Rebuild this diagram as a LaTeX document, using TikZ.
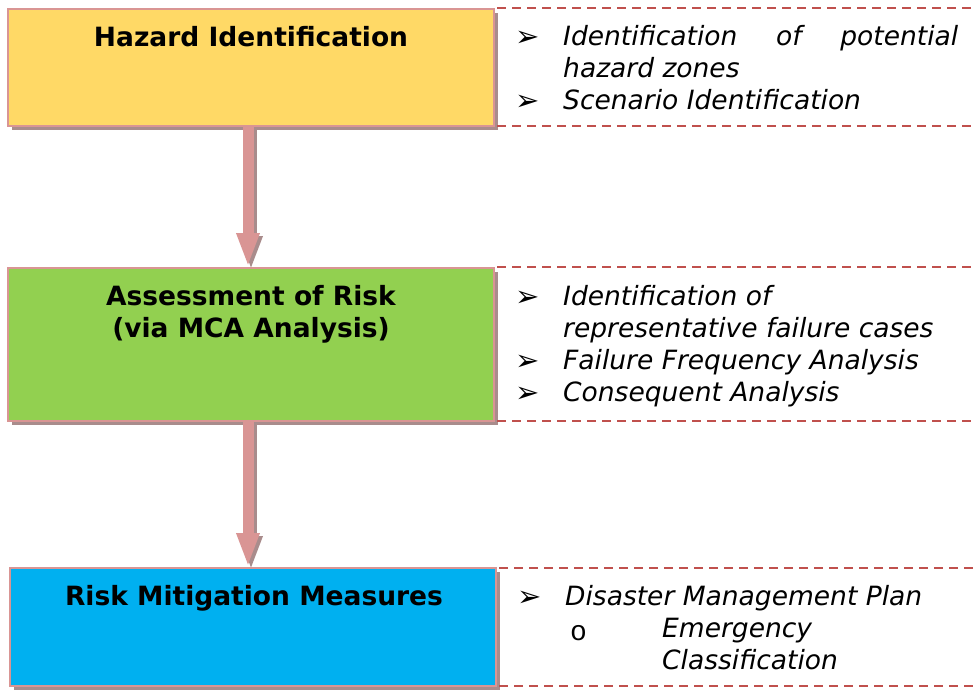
\documentclass[tikz,border=0pt]{standalone}
\usepackage{fontspec}
\setmainfont{DejaVu Sans}
\newfontfamily\monofnt{Liberation Mono}
\usetikzlibrary{arrows.meta,shadows}
\definecolor{hyellow}{HTML}{FFD966}
\definecolor{hgreen}{HTML}{92D050}
\definecolor{hblue}{HTML}{00B0F0}
\definecolor{hborder}{HTML}{D99594}
\definecolor{hshadow}{HTML}{A98C8C}
\definecolor{hdash}{HTML}{C0504D}
\begin{document}
\begin{tikzpicture}[x=1pt,y=-1pt,
  stagebox/.style={draw=hborder, line width=2pt, minimum width=486pt, inner sep=0pt,
    drop shadow={shadow xshift=4pt, shadow yshift=-4pt, fill=hshadow, opacity=1}},
  titletext/.style={anchor=base, inner sep=0pt, font=\fontsize{26.5}{30}\selectfont\bfseries},
  bul/.style={anchor=base west, inner sep=0pt, font=\fontsize{29}{32}\selectfont},
  itemtext/.style={anchor=base west, inner sep=0pt, font=\fontsize{26.5}{30}\selectfont\itshape},
  flow/.style={line width=11pt, hborder, -{Triangle[width=21pt,length=34pt]}},
  flowshadow/.style={line width=11pt, hshadow, -{Triangle[width=21pt,length=34pt]}},
  sep/.style={hdash, line width=2pt, dash pattern=on 9pt off 6pt}
]
\useasboundingbox (0,0) rectangle (976,691);

% boxes
\node[stagebox, fill=hyellow, minimum height=117pt] (b1) at (251,67.5) {};
\node[stagebox, fill=hgreen, minimum height=153pt] (b2) at (251,344.5) {};
\node[stagebox, fill=hblue, minimum height=118pt] (b3) at (253,627) {};

% arrow anchors
\coordinate (a1s) at ([xshift=-3pt]b1.south);
\coordinate (a2s) at ([xshift=-3pt]b2.south);

% arrows
\begin{scope}[transform canvas={xshift=3pt,yshift=-3pt}]
\draw[flowshadow] (a1s) -- (a1s |- b2.north);
\draw[flowshadow] (a2s) -- (a2s |- b3.north);
\end{scope}
\draw[flow] (a1s) -- (a1s |- b2.north);
\draw[flow] (a2s) -- (a2s |- b3.north);

% titles
\node[titletext] (t1) at (251,46) {Hazard Identification};
\node[titletext] (t2a) at (251,305) {Assessment of Risk};
\node[titletext] (t2b) at (251,337) {(via MCA Analysis)};
\node[titletext] (t3) at (254,605) {Risk Mitigation Measures};

% separators
\coordinate (s1a) at (497,8);   \coordinate (e1a) at (976,8);
\coordinate (s1b) at (497,126); \coordinate (e1b) at (976,126);
\coordinate (s2a) at (497,267); \coordinate (e2a) at (976,267);
\coordinate (s2b) at (497,421); \coordinate (e2b) at (976,421);
\coordinate (s3a) at (499,568); \coordinate (e3a) at (976,568);
\coordinate (s3b) at (499,686); \coordinate (e3b) at (976,686);
\draw[sep] (s1a) -- (e1a);
\draw[sep] (s1b) -- (e1b);
\draw[sep] (s2a) -- (e2a);
\draw[sep] (s2b) -- (e2b);
\draw[sep] (s3a) -- (e3a);
\draw[sep] (s3b) -- (e3b);

% list 1
\node[bul] (p1) at (515,46) {➢};
\node[itemtext] (i1) at (563,45) {\hbox to 395pt{Identification\hfill of\hfill potential}};
\node[itemtext] (i1b) at (563,77) {hazard zones};
\node[bul] (p2) at (515,110) {➢};
\node[itemtext] (i2) at (563,109) {Scenario Identification};

% list 2
\node[bul] (p3) at (515,306) {➢};
\node[itemtext] (i3) at (563,305) {Identification of};
\node[itemtext] (i3b) at (563,337) {representative failure cases};
\node[bul] (p4) at (515,370) {➢};
\node[itemtext] (i4) at (563,369) {Failure Frequency Analysis};
\node[bul] (p5) at (515,402) {➢};
\node[itemtext] (i5) at (563,401) {Consequent Analysis};

% list 3
\node[bul] (p6) at (517,606) {➢};
\node[itemtext] (i6) at (565,605) {Disaster Management Plan};
\node[bul, font=\fontsize{28}{30}\selectfont\monofnt] (p7) at (570,640) {o};
\node[itemtext] (i7) at (662,637) {Emergency};
\node[itemtext] (i7b) at (662,669) {Classification};
\end{tikzpicture}
\end{document}
